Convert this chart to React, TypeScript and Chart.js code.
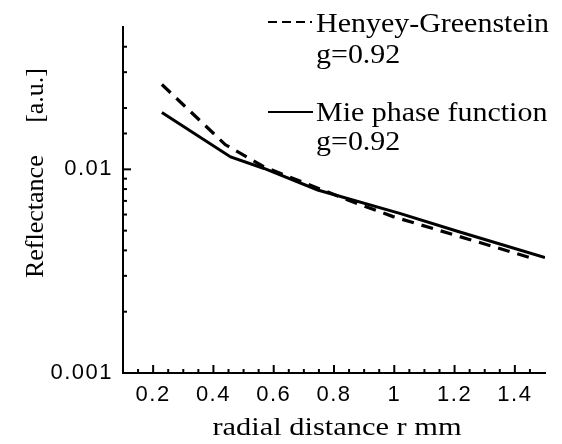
import { useEffect, useRef } from 'react';
import { Chart, registerables } from 'chart.js';

Chart.register(...registerables);

// ---- data ----
const seriesNames = ['Henyey-Greenstein', 'Mie phase function'];
const seriesNotes = ['g=0.92', 'g=0.92'];

const hgX = [0.229, 0.44, 0.567, 0.846, 0.996, 1.246, 1.468];
const hgY = [0.0261, 0.0132, 0.0103, 0.00707, 0.00586, 0.00454, 0.00362];

const mieX = [0.229, 0.457, 0.568, 0.746, 1.018, 1.212, 1.5];
const mieY = [0.019, 0.0115, 0.0101, 0.00792, 0.00608, 0.00495, 0.00369];

const xMajorTicks = [0.2, 0.4, 0.6, 0.8, 1.0, 1.2, 1.4];
const xMinorTicks = [0.15, 0.25, 0.3, 0.35, 0.45, 0.5, 0.55, 0.65, 0.7, 0.75, 0.85, 0.9, 0.95, 1.05, 1.1, 1.15, 1.25, 1.3, 1.35, 1.45];
const yLabelTicks = [0.001, 0.01];

const xTitle = 'radial distance r mm';
const yTitle = 'Reflectance     [a.u.]';

const SERIF = '"Liberation Serif", "Times New Roman", serif';
const SANS = '"Liberation Sans", Arial, sans-serif';

function drawText(ctx: CanvasRenderingContext2D, text: string, x: number, y: number, font: string, sx: number, align: CanvasTextAlign) {
  ctx.save();
  ctx.translate(x, y);
  ctx.scale(sx, 1);
  ctx.font = font;
  ctx.textAlign = align;
  ctx.textBaseline = 'alphabetic';
  ctx.fillStyle = '#000';
  ctx.fillText(text, 0, 0);
  ctx.restore();
}

const decorPlugin = {
  id: 'decor',
  beforeDraw(chart: any) {
    (chart.ctx as any).letterSpacing = '1.5px';
  },
  afterDraw(chart: any) {
    const ctx: CanvasRenderingContext2D = chart.ctx;
    (ctx as any).letterSpacing = '0px';
    const xs = chart.scales.x;
    const ys = chart.scales.y;
    const area = chart.chartArea;
    ctx.save();
    ctx.strokeStyle = '#000';
    ctx.lineWidth = 2;
    ctx.setLineDash([]);
    // inward y ticks
    for (const t of ys.ticks) {
      const v = t.value;
      if (v >= ys.max * 0.999) continue;
      const py = ys.getPixelForValue(v);
      const major = yLabelTicks.some((m) => Math.abs(m - v) < 1e-9);
      const len = major ? 8 : 4;
      ctx.beginPath();
      ctx.moveTo(area.left, py);
      ctx.lineTo(area.left + len, py);
      ctx.stroke();
    }
    // inward x ticks
    const xt = [...xMajorTicks.map((v) => [v, 8]), ...xMinorTicks.map((v) => [v, 4])];
    for (const [v, len] of xt) {
      const px = xs.getPixelForValue(v);
      ctx.beginPath();
      ctx.moveTo(px, area.bottom);
      ctx.lineTo(px, area.bottom - len);
      ctx.stroke();
    }
    // legend
    ctx.lineWidth = 2;
    ctx.setLineDash([9, 5]);
    ctx.beginPath();
    ctx.moveTo(268, 22);
    ctx.lineTo(312, 22);
    ctx.stroke();
    ctx.setLineDash([]);
    ctx.beginPath();
    ctx.moveTo(268, 112);
    ctx.lineTo(313, 112);
    ctx.stroke();
    ctx.restore();

    const legFont = `27px ${SERIF}`;
    drawText(ctx, seriesNames[0], 316, 32, legFont, 1.11, 'left');
    drawText(ctx, seriesNotes[0], 316, 63, legFont, 1.11, 'left');
    drawText(ctx, seriesNames[1], 316, 121, legFont, 1.11, 'left');
    drawText(ctx, seriesNotes[1], 316, 150, legFont, 1.11, 'left');

    // axis titles
    drawText(ctx, xTitle, 337, 435, `26px ${SERIF}`, 1.17, 'center');
    ctx.save();
    ctx.translate(43, 173);
    ctx.rotate(-Math.PI / 2);
    ctx.font = `26px ${SERIF}`;
    ctx.textAlign = 'center';
    ctx.textBaseline = 'alphabetic';
    ctx.fillStyle = '#000';
    ctx.fillText(yTitle, 0, 0);
    ctx.restore();
  },
};

export default function App() {
  const ref = useRef<HTMLCanvasElement | null>(null);
  useEffect(() => {
    if (!ref.current) return;
    const chart = new Chart(ref.current, {
      type: 'line',
      data: {
        datasets: [
          {
            label: seriesNames[0],
            data: hgX.map((x, i) => ({ x, y: hgY[i] })),
            borderColor: '#000',
            borderWidth: 3.2,
            borderDash: [12, 8],
            pointRadius: 0,
            fill: false,
            tension: 0,
          },
          {
            label: seriesNames[1],
            data: mieX.map((x, i) => ({ x, y: mieY[i] })),
            borderColor: '#000',
            borderWidth: 3,
            pointRadius: 0,
            fill: false,
            tension: 0,
          },
        ],
      },
      options: {
        animation: false,
        responsive: false,
        layout: { padding: { left: 0, top: 27, right: 17, bottom: 0 } },
        plugins: { legend: { display: false }, tooltip: { enabled: false } },
        scales: {
          x: {
            type: 'linear',
            min: 0.1,
            max: 1.5,
            afterBuildTicks: (scale: any) => {
              scale.ticks = xMajorTicks.map((v) => ({ value: v }));
            },
            afterFit: (scale: any) => {
              scale.height = 71;
            },
            grid: { display: false, drawTicks: false },
            border: { display: true, color: '#000', width: 2 },
            ticks: {
              padding: 9,
              autoSkip: false,
              maxRotation: 0,
              color: '#000',
              font: { family: SANS, size: 22 },
              callback: (v: any) => String(Number(Number(v).toFixed(1))),
            },
          },
          y: {
            type: 'logarithmic',
            min: 0.001,
            max: 0.05,
            afterFit: (scale: any) => {
              scale.width = 123;
            },
            grid: { display: false, drawTicks: false },
            border: { display: true, color: '#000', width: 2 },
            ticks: {
              padding: 10,
              autoSkip: false,
              color: '#000',
              font: { family: SANS, size: 22 },
              callback: (v: any) => {
                const m = yLabelTicks.find((t) => Math.abs(t - Number(v)) < 1e-9);
                return m !== undefined ? String(m) : '';
              },
            },
          },
        },
      },
      plugins: [decorPlugin],
    });
    return () => chart.destroy();
  }, []);
  return (
    <div style={{ position: 'absolute', left: 0, top: 0, width: 562, height: 444, background: '#fff' }}>
      <canvas ref={ref} width={562} height={444} style={{ display: 'block' }} />
    </div>
  );
}
